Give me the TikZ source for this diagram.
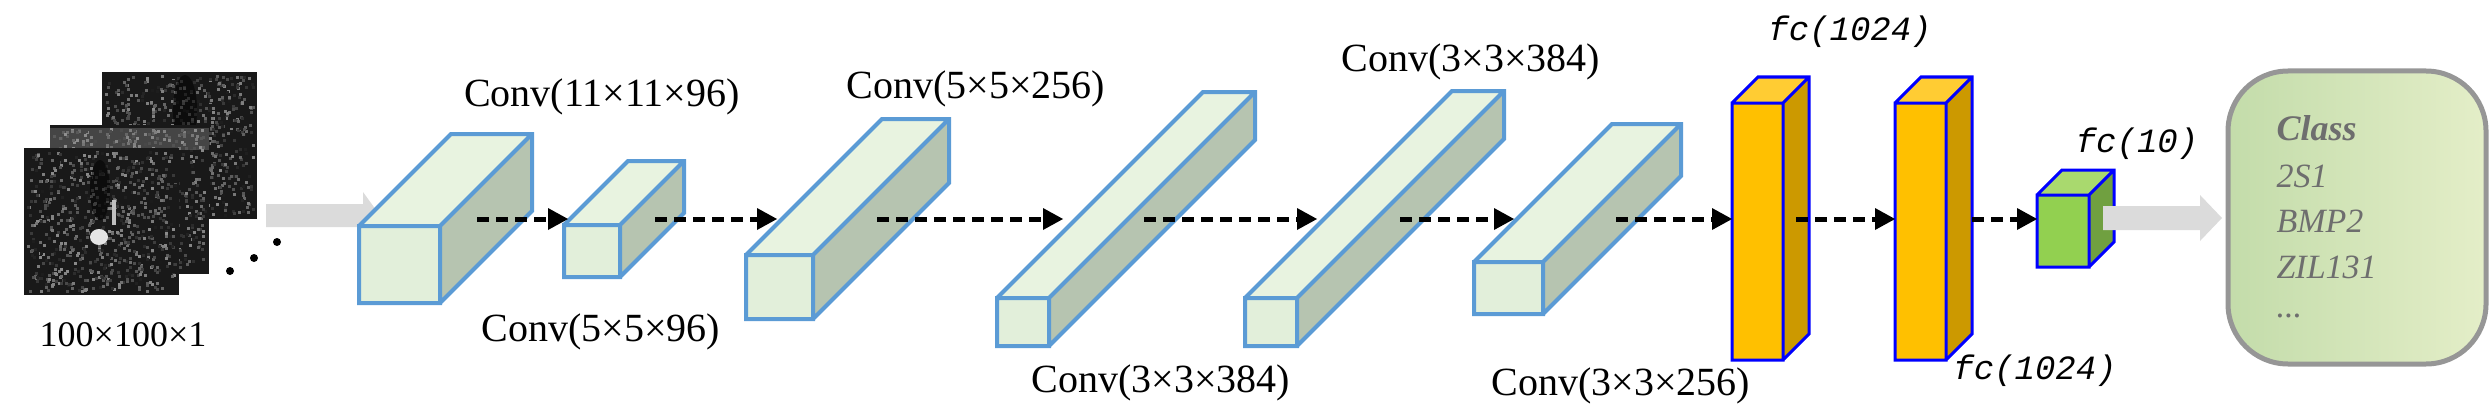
\documentclass[tikz,border=0pt]{standalone}
\usepackage{fontspec}
\setmainfont{Liberation Serif}
\newfontfamily\fcfont{Liberation Mono}
\begin{document}
\begin{tikzpicture}[x=1pt,y=-1pt,
  conv/.style={line width=4pt,draw={rgb,255:red,91;green,155;blue,213},line join=miter},
  fcs/.style={line width=3pt,draw=blue,line join=miter},
  dashline/.style={line width=5pt,dash pattern=on 12pt off 7pt},
  tiphead/.style={fill=black},
  lab/.style={font=\fontsize{40}{44}\selectfont},
  fclab/.style={font=\fcfont\itshape\fontsize{34}{40}\selectfont},
  cls/.style={font=\itshape\fontsize{34}{40}\selectfont,text={rgb,255:red,110;green,110;blue,110},anchor=west}]
\useasboundingbox (0,0) rectangle (2492,420);
\definecolor{cf}{RGB}{226,239,218}\definecolor{ct}{RGB}{232,243,224}\definecolor{cs}{RGB}{182,196,176}
\definecolor{ff}{RGB}{255,192,0}\definecolor{ft}{RGB}{255,204,51}\definecolor{fs}{RGB}{204,153,0}
\definecolor{gf}{RGB}{146,208,80}\definecolor{gt}{RGB}{169,217,110}\definecolor{gs}{RGB}{112,160,64}
\newcommand\mybox[9]{%
  \fill[#8] (#1+#3,#2) -- (#1+#3+#5,#2-#5) -- (#1+#3+#5,#2+#4-#5) -- (#1+#3,#2+#4) -- cycle;
  \fill[#7] (#1,#2) -- (#1+#5,#2-#5) -- (#1+#3+#5,#2-#5) -- (#1+#3,#2) -- cycle;
  \fill[#6] (#1,#2) rectangle (#1+#3,#2+#4);
  \draw[#9] (#1,#2) rectangle (#1+#3,#2+#4) (#1,#2) -- (#1+#5,#2-#5) -- (#1+#3+#5,#2-#5) -- (#1+#3+#5,#2+#4-#5) -- (#1+#3,#2+#4) (#1+#3,#2) -- (#1+#3+#5,#2-#5);}
% input images
\pgfmathsetseed{7}
\newcommand\sarimg[4]{%
  \fill[black!90] (#1,#2) rectangle (#3,#4);
  \foreach \i in {1,...,700}{%
    \pgfmathsetmacro\px{#1+3+rnd*(#3-#1-8)}\pgfmathsetmacro\py{#2+3+rnd*(#4-#2-8)}\pgfmathsetmacro\gv{10+rnd*45}
    \fill[white!\gv!black] (\px,\py) rectangle +(3,3);}}
\sarimg{102}{72}{257}{219}
\begin{scope}\clip (102,72) rectangle (257,219);
\fill[black,opacity=.5] (185,110) ellipse (12pt and 35pt);
\end{scope}
\sarimg{50}{125}{209}{274}
\fill[white!60!black,opacity=.35] (50,128) rectangle (209,150);
\sarimg{24}{148}{179}{295}
\fill[black,opacity=.5] (100,190) ellipse (10pt and 30pt);
\fill[white!75!black] (112,200) rectangle (116,225);
\fill[white!90!black] (99,237) ellipse (9pt and 8pt);
\fill (230,271) circle (4) (254,258) circle (4) (277,242) circle (4);
\node[lab,font=\fontsize{36}{40}\selectfont] (in) at (123,335) {100×100×1};
% gray input arrow
\fill[white!86!black] (266,204) rectangle (363,227) (363,192) -- (380,215.5) -- (363,239) -- cycle;
% conv boxes
\mybox{359}{226}{81}{77}{92}{cf}{ct}{cs}{conv}
\mybox{564}{225}{56}{52}{64}{cf}{ct}{cs}{conv}
\mybox{746}{255}{67}{64}{136}{cf}{ct}{cs}{conv}
\mybox{997}{298}{52}{48}{206}{cf}{ct}{cs}{conv}
\mybox{1245}{298}{52}{48}{207}{cf}{ct}{cs}{conv}
\mybox{1474}{262}{69}{52}{138}{cf}{ct}{cs}{conv}
\mybox{1732}{103}{51}{257}{26}{ff}{ft}{fs}{fcs}
\mybox{1895}{103}{51}{257}{26}{ff}{ft}{fs}{fcs}
\mybox{2037}{195}{52}{72}{25}{gf}{gt}{gs}{fcs}
% dashed arrows
\foreach \a/\b [count=\k] in {477/568,655/777,877/1063,1144/1317,1400/1514,1616/1732,1796/1895,1972/2037}{
  \coordinate (s\k) at (\a,219); \coordinate (e\k) at (\b,219);
  \draw[dashline] (s\k) -- ([xshift=-18pt]e\k);
  \fill[tiphead] (e\k) -- ++(-20,-11) -- ++(0,22) -- cycle;}
% labels
\node[lab] at (602,97) {Conv(11×11×96)};
\node[lab] at (976,89) {Conv(5×5×256)};
\node[lab] at (601,332) {Conv(5×5×96)};
\node[lab] at (1161,383) {Conv(3×3×384)};
\node[lab] at (1471,62) {Conv(3×3×384)};
\node[lab] at (1621,386) {Conv(3×3×256)};
\node[fclab] at (1850,32) {fc(1024)};
\node[fclab] at (2035,371) {fc(1024)};
\node[fclab] at (2137,144) {fc(10)};
% output arrow
\fill[white!86!black] (2103,206) rectangle (2200,230) (2200,195) -- (2222,218) -- (2200,241) -- cycle;
% class box
\node[draw={rgb,255:red,150;green,150;blue,150},line width=5pt,rounded corners=60pt,
  minimum width=258pt,minimum height=293pt,
  left color={rgb,255:red,195;green,220;blue,170},right color={rgb,255:red,228;green,238;blue,200}] (cb) at (2357,217.5) {};
\node[cls,font=\bfseries\itshape\fontsize{36}{40}\selectfont] at (2273,128) {Class};
\node[cls] at (2273,176) {2S1};
\node[cls] at (2273,221) {BMP2};
\node[cls] at (2273,267) {ZIL131};
\node[cls] at (2273,316) {...};
\end{tikzpicture}
\end{document}
